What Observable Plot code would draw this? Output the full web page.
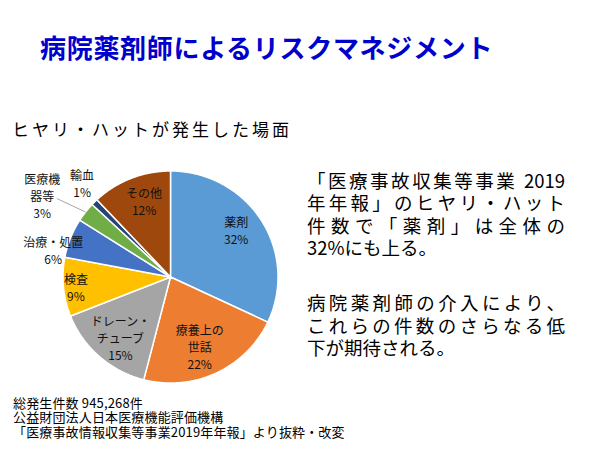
<!DOCTYPE html>
<html><head><meta charset="utf-8">
<script src="https://cdn.jsdelivr.net/npm/d3@7"></script>
<script src="https://cdn.jsdelivr.net/npm/@observablehq/plot@0.6"></script>
<style>
body{margin:0;background:#fff;font-family:"Noto Sans CJK JP",sans-serif;color:#000;}
#page{position:relative;width:600px;height:450px;overflow:hidden;background:#fff;}
#title{position:absolute;left:40px;top:32px;font-size:26px;line-height:30px;font-weight:bold;color:#0000cc;letter-spacing:0.7px;white-space:nowrap;}
#subtitle{position:absolute;left:12px;top:118px;font-size:17px;line-height:22px;letter-spacing:3px;white-space:nowrap;}
#chart{position:absolute;left:0;top:150px;}
#note{position:absolute;left:307px;top:168.5px;width:258px;font-size:18.5px;line-height:22.5px;}
#note .j{text-align:justify;text-align-last:justify;white-space:nowrap;}
#note .p2{margin-top:32.5px;}
#foot{position:absolute;left:13px;top:395.5px;font-size:13px;line-height:14.7px;letter-spacing:0.15px;white-space:nowrap;}
</style></head><body>
<div id="page">
  <div id="title"></div>
  <div id="subtitle"></div>
  <div id="chart"></div>
  <div id="note"></div>
  <div id="foot"></div>
</div>
<script>
// ---- data ----
const titleText = "病院薬剤師によるリスクマネジメント";
const subtitleText = "ヒヤリ・ハットが発生した場面";
const categories = ["薬剤", "療養上の世話", "ドレーン・チューブ", "検査", "治療・処置", "医療機器等", "輸血", "その他"];
const shares = [32, 22, 15, 9, 6, 3, 1, 12];
const labelNames = ["薬剤", "療養上の\n世話", "ドレーン・\nチューブ", "検査", "治療・処置", "医療機\n器等", "輸血", "その他"];
const colors = ["#5b9bd5", "#ed7d31", "#a5a5a5", "#ffc000", "#4472c4", "#70ad47", "#264478", "#9e480e"];
const noteLines1 = ["「医療事故収集等事業 2019", "年年報」のヒヤリ・ハット", "件数で「薬剤」は全体の", "32%にも上る。"];
const noteLines2 = ["病院薬剤師の介入により、", "これらの件数のさらなる低", "下が期待される。"];
const footLines = ["総発生件数 945,268件", "公益財団法人日本医療機能評価機構", "「医療事故情報収集等事業2019年年報」より抜粋・改変"];

// ---- layout (label placement relative to slice mid-angle, in radius units) ----
const labelTurn = [-3.6, 2.7, -2.4, -0.6, -8.6, -5, 2.2, 2.6];
const labelDist = [0.755, 0.71, 0.74, 0.885, 1.12, 1.42, 1.21, 0.755];
const leaderSlice = 5, leaderTurn = -2.8, leaderDist = 1.29;

document.getElementById("title").textContent = titleText;
document.getElementById("subtitle").textContent = subtitleText;
const note = document.getElementById("note");
noteLines1.forEach((t, i) => { const d = document.createElement("div"); d.textContent = t; if (i < noteLines1.length - 1) d.className = "j"; note.appendChild(d); });
noteLines2.forEach((t, i) => { const d = document.createElement("div"); d.textContent = t; const cls = []; if (i < noteLines2.length - 1) cls.push("j"); if (i === 0) cls.push("p2"); d.className = cls.join(" "); note.appendChild(d); });
const foot = document.getElementById("foot");
footLines.forEach(t => { const d = document.createElement("div"); d.textContent = t; foot.appendChild(d); });

// ---- build pie geometry ----
const W = 300, H = 240, CX = 170, CY = 126.5, RX = 107.5, RY = 106;
const total = d3.sum(shares);
const rad = a => a * Math.PI / 180;
const pt = (a, d) => ({x: Math.sin(rad(a)) * d, y: Math.cos(rad(a)) * d});
const polys = [];
const labels = [];
let acc = 0;
categories.forEach((c, i) => {
  const a0 = acc / total * 360, a1 = (acc + shares[i]) / total * 360;
  acc += shares[i];
  polys.push({cat: c, x: 0, y: 0});
  const n = Math.max(2, Math.ceil((a1 - a0) / 0.5));
  for (let k = 0; k <= n; k++) { const p = pt(a0 + (a1 - a0) * k / n, 1); polys.push({cat: c, ...p}); }
  polys.push({cat: c, x: 0, y: 0});
  const mid = (a0 + a1) / 2;
  const p = pt(mid + labelTurn[i], labelDist[i]);
  labels.push({cat: c, mid, ...p, text: labelNames[i] + "\n" + shares[i] + "%"});
});
const L = labels[leaderSlice];
const e0 = pt(L.mid, 1), e1 = pt(L.mid + leaderTurn, leaderDist);
const leaders = [{x1: e0.x, y1: e0.y, x2: e1.x, y2: e1.y}];

const chart = Plot.plot({
  width: W, height: H, margin: 0,
  style: {background: "transparent", overflow: "visible"},
  x: {domain: [-CX / RX, (W - CX) / RX], axis: null},
  y: {domain: [-(H - CY) / RY, CY / RY], axis: null},
  color: {domain: categories, range: colors},
  marks: [
    Plot.line(polys, {x: "x", y: "y", z: "cat", fill: "cat", stroke: "#fff", strokeWidth: 1.5, strokeLinejoin: "miter", curve: "linear"}),
    Plot.link(leaders, {x1: "x1", y1: "y1", x2: "x2", y2: "y2", stroke: "#a6a6a6", strokeWidth: 1}),
    Plot.text(labels, {x: "x", y: "y", text: "text", fontSize: 12, lineHeight: 1.42, fill: "#111", fontFamily: "Noto Sans CJK JP"})
  ]
});
document.getElementById("chart").appendChild(chart);
</script>
</body></html>
